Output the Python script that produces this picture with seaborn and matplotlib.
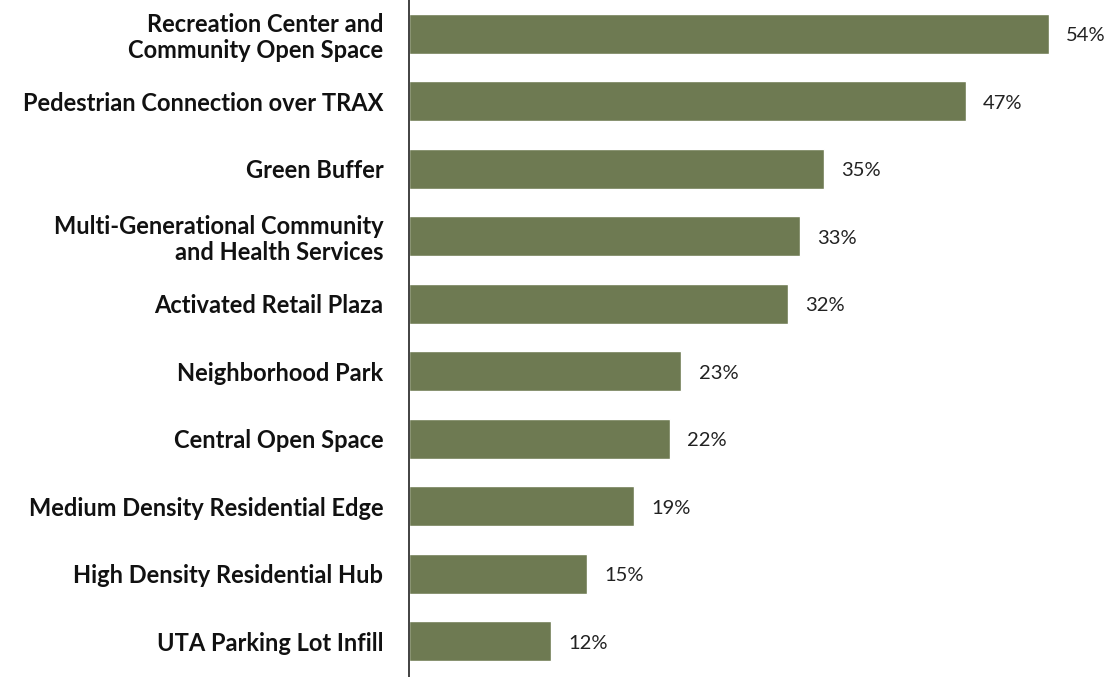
import matplotlib
matplotlib.use("Agg")
import matplotlib.pyplot as plt
import seaborn as sns
import pandas as pd

categories = [
    "Recreation Center and\nCommunity Open Space",
    "Pedestrian Connection over TRAX",
    "Green Buffer",
    "Multi-Generational Community\nand Health Services",
    "Activated Retail Plaza",
    "Neighborhood Park",
    "Central Open Space",
    "Medium Density Residential Edge",
    "High Density Residential Hub",
    "UTA Parking Lot Infill",
]
values = [54, 47, 35, 33, 32, 23, 22, 19, 15, 12]

df = pd.DataFrame({"category": categories, "value": values})

sns.set_theme(style="white")
plt.rcParams["font.family"] = ["Lato", "DejaVu Sans"]

fig = plt.figure(figsize=(11.08, 6.77), dpi=100)
ax = fig.add_axes([409 / 1108, 0, (1108 - 409) / 1108, 1])

sns.barplot(data=df, x="value", y="category", color="#6E7A52", width=0.59,
            saturation=1, ax=ax, orient="h")

ax.set_xlim(0, 59)
ax.set_ylim(9.53, -0.5)
ax.set_xlabel("")
ax.set_ylabel("")
ax.set_xticks([])
for s in ["top", "right", "bottom"]:
    ax.spines[s].set_visible(False)
ax.spines["left"].set_color("#333333")
ax.spines["left"].set_linewidth(1.3)
ax.tick_params(axis="y", length=0, pad=18.5)
for lbl in ax.get_yticklabels():
    lbl.set_fontweight("bold")
    lbl.set_fontsize(17)
    lbl.set_color("#111111")
    lbl.set_horizontalalignment("right")
    lbl.set_multialignment("right")
    lbl.set_linespacing(1.15)

for i, v in enumerate(values):
    ax.annotate(f"{v}%", xy=(v, i), xytext=(12.5, -1.5), textcoords="offset points",
                va="center", ha="left", fontsize=14.5, color="#222222")

fig.savefig("out.png", dpi=100)
